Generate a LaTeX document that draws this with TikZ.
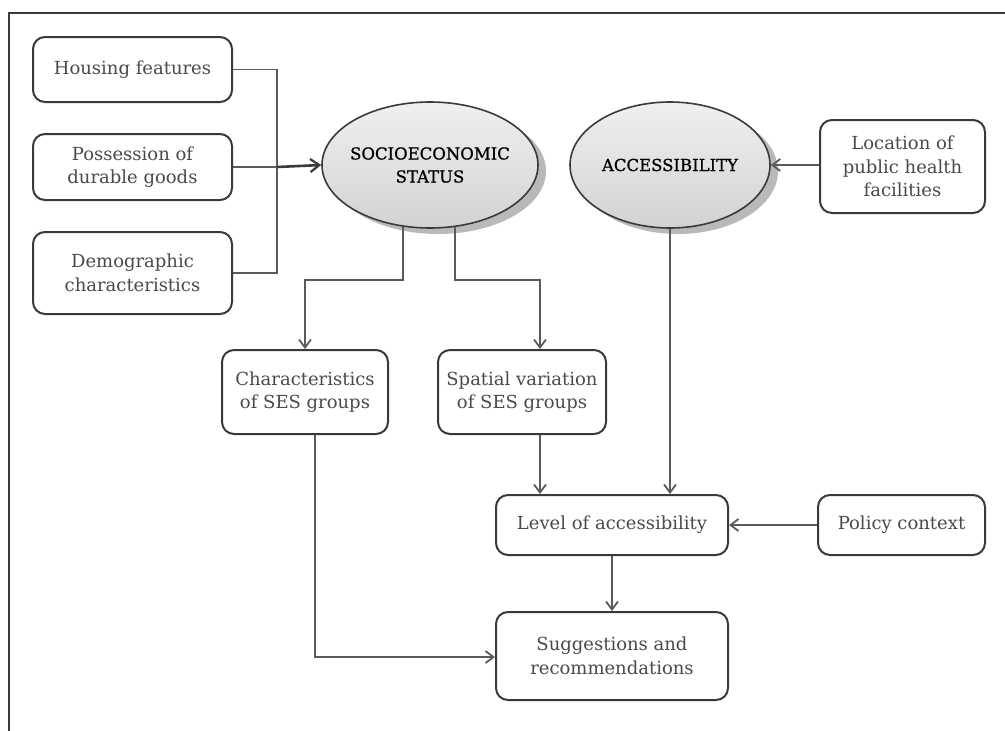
\documentclass[tikz,border=0pt]{standalone}
\usepackage{fontspec}
\setmainfont{DejaVu Serif}
\newfontfamily\ovalfont{DejaVu Serif}[FakeBold=0.8]
\usetikzlibrary{arrows.meta,shapes.geometric,shadows}
\definecolor{edge}{HTML}{3A3A3A}
\definecolor{wire}{HTML}{5A5A5A}
\definecolor{txt}{HTML}{4A4A4A}
\tikzset{
  box/.style={draw=edge, line width=2pt, rounded corners=12pt, fill=white,
    align=center, text=txt, font=\fontsize{18}{23.5}\selectfont, inner sep=2pt},
  oval/.style={ellipse, draw=edge, line width=1.6pt, align=center,
    inner xsep=-6pt, inner ysep=0pt,
    top color=gray!12, bottom color=gray!35, text=black,
    font=\ovalfont\fontsize{16.5}{23}\selectfont,
    drop shadow={shadow xshift=8pt, shadow yshift=-6pt, fill=gray!55, opacity=1}},
  wirearrow/.style={draw=wire, line width=1.5pt, -{Straight Barb[length=8pt,width=12pt,line width=1.8pt]}},
  wireplain/.style={draw=wire, line width=1.5pt},
}
\begin{document}
\begin{tikzpicture}[x=1pt,y=-1pt]
\useasboundingbox (0,0) rectangle (1005,731);
% outer frame, open to the right and below
\draw[edge, line width=1.6pt] (9,731) -- (9,13) -- (1005,13);

% input boxes
\node[box, minimum width=199pt, minimum height=65pt] (housing) at (132.5,69.5) {Housing features};
\node[box, minimum width=199pt, minimum height=66pt] (goods) at (132.5,167) {Possession of\\durable goods};
\node[box, minimum width=199pt, minimum height=82pt] (demo) at (132.5,273) {Demographic\\characteristics};

% core concepts
\node[oval, minimum width=216pt, minimum height=126pt] (ses) at (430,165) {SOCIOECONOMIC\\STATUS};
\node[oval, minimum width=200pt, minimum height=126pt] (acc) at (670,165) {ACCESSIBILITY};
\node[box, minimum width=165pt, minimum height=93pt] (loc) at (902.5,166.5) {Location of\\public health\\facilities};

% derived analyses
\node[box, minimum width=166pt, minimum height=84pt] (chars) at (305,392) {Characteristics\\of SES groups};
\node[box, minimum width=168pt, minimum height=84pt] (spatial) at (522,392) {Spatial variation\\of SES groups};
\node[box, minimum width=232pt, minimum height=60pt] (level) at (612,525) {Level of accessibility};
\node[box, minimum width=167pt, minimum height=60pt] (policy) at (901.5,525) {Policy context};
\node[box, minimum width=232pt, minimum height=88pt] (sugg) at (612,656) {Suggestions and\\recommendations};

% indicators feeding socioeconomic status
\coordinate (join) at (277,167);
\draw[wireplain] (housing.east) -- (housing.east -| join) -- (demo.east -| join) -- (demo.east);
\draw[wireplain] (goods.east) -- (join);
\draw[draw=edge, line width=2.6pt, -{Straight Barb[length=9pt,width=13pt,line width=2.2pt]}] (join) -- (ses.west);

% status split into the two group analyses
\coordinate (sesL) at (403,280);
\coordinate (sesR) at (455,280);
\coordinate (spR) at (540,280);
\draw[wirearrow] (403,227) -- (sesL) -- (sesL -| chars.north) -- (chars.north);
\draw[wirearrow] (455,227) -- (sesR) -- (spR) -- (spR |- spatial.north);

% accessibility chain
\draw[wirearrow] (loc.west |- acc.east) -- (acc.east);
\draw[wirearrow] (acc.south) -- (acc.south |- level.north);
\draw[wirearrow] (spR |- spatial.south) -- (spR |- level.north);
\draw[wirearrow] (policy.west) -- (level.east);
\draw[wirearrow] (level.south) -- (sugg.north);
\coordinate (chL) at (315,657);
\draw[wirearrow] (chL |- chars.south) -- (chL) -- (chL -| sugg.west);
\end{tikzpicture}
\end{document}
